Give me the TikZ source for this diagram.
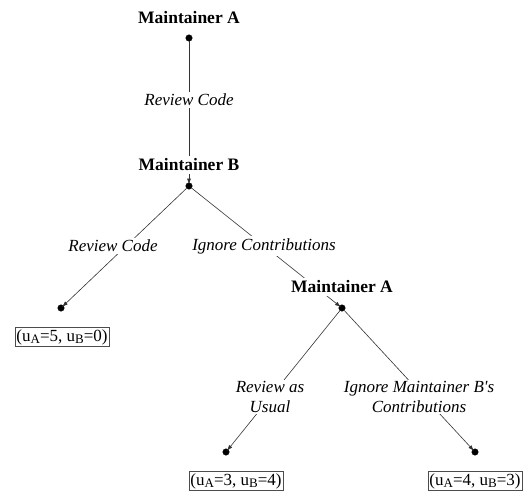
\documentclass[tikz,border=0pt]{standalone}
\usepackage{fontspec}
\setmainfont{Liberation Serif}
\usetikzlibrary{arrows.meta}
\tikzset{>={Latex[length=6pt,width=4pt]}}
\tikzset{dot/.style={inner sep=0pt,minimum size=6.5pt,circle,draw,fill}}
\tikzset{player/.style={font=\fontsize{17.5}{20}\selectfont\bfseries,fill=white,inner sep=3pt}}
\tikzset{move/.style={font=\fontsize{17}{19.5}\selectfont\itshape,fill=white,inner sep=2pt,align=center}}
\tikzset{payoff/.style={font=\fontsize{17}{20}\selectfont,draw=black!70,inner sep=1.5pt,line width=0.6pt}}
\tikzset{edge/.style={black!80,line width=0.6pt,->,shorten >=-2pt}}
\newcommand{\sub}[1]{\raisebox{-0.35ex}{\fontsize{13}{13}\selectfont #1}}

\begin{document}
\begin{tikzpicture}[x=1pt,y=-1pt]
                    \useasboundingbox (0,0) rectangle (524,495);

                    \node[dot] (A1) at (189,38) {};
                    \node[dot] (B) at (189,186) {};
                    \node[dot] (L1) at (61,308) {};
                    \node[dot] (A2) at (342,308) {};
                    \node[dot] (L2) at (226,452) {};
                    \node[dot] (L3) at (475,452) {};

                    \draw[edge] (A1) -- (B);
                    \draw[edge] (B) -- (L1);
                    \draw[edge] (B) -- (A2);
                    \draw[edge] (A2) -- (L2);
                    \draw[edge] (A2) -- (L3);

                    \node[player] (pA1) at (189,18) {Maintainer A};
                    \node[player] (pB) at (189,165) {Maintainer B};
                    \node[player] (pA2) at (342,287) {Maintainer A};

                    \node[move] (m1) at (189,100) {Review Code};
                    \node[move] (m2) at (113,246) {Review Code};
                    \node[move] (m3) at (264,246) {Ignore Contributions};
                    \node[move] (m4) at (270,397) {Review as\\Usual};
                    \node[move] (m5) at (419,397) {Ignore Maintainer B\textquotesingle s\\Contributions};

                    \node[payoff] (u1) at (62,337) {(u\sub{A}=5, u\sub{B}=0)};
                    \node[payoff] (u2) at (236,481) {(u\sub{A}=3, u\sub{B}=4)};
                    \node[payoff] (u3) at (475,481) {(u\sub{A}=4, u\sub{B}=3)};
                \end{tikzpicture}
\end{document}
